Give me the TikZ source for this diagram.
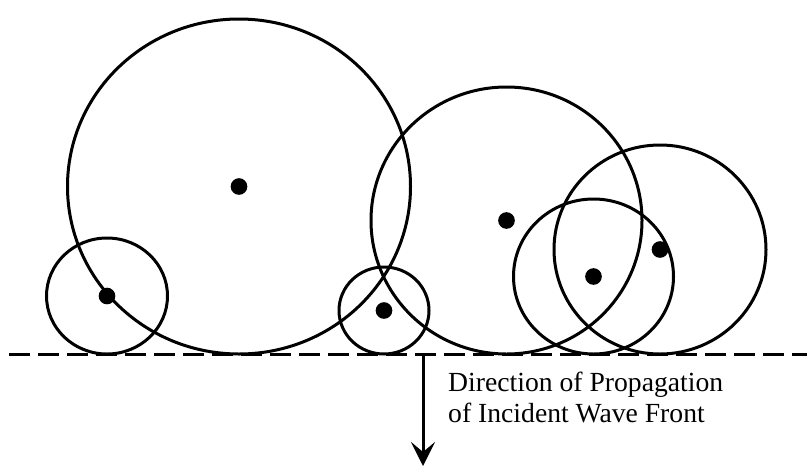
\documentclass[tikz,border=0pt]{standalone}
\usepackage{fontspec}
\setmainfont{Liberation Serif}
\usetikzlibrary{arrows.meta}
\tikzset{
  wave/.style={line width=0.09cm},
  ctr/.style={circle, fill=black, inner sep=0pt, minimum size=0.5cm},
  front/.style={line width=0.09cm, dash pattern=on 0.63cm off 0.24cm},
  prop/.style={-{Stealth[length=0.72cm, width=0.72cm, inset=0.3cm]}, line width=0.09cm},
  lbl/.style={anchor=base west, align=left, inner sep=0pt,
              font=\fontsize{23.6}{26}\selectfont},
}
\begin{document}
\begin{tikzpicture}[x=0.03cm, y=-0.03cm]
  \useasboundingbox (0,0) rectangle (807,466);
  % secondary wavelets: name/x/y/rx/ry
  \foreach \n/\cx/\cy/\rx/\ry in {w1/107/296/60.5/58, w2/239/186.5/171.5/167.5,
      w3/384/310.5/45/43.5, w4/506.5/220.5/135.5/133.5,
      w5/593.5/276.5/80/77.5, w6/660/249.5/106/104.5}{
    \node[ctr] (\n) at (\cx,\cy) {};
    \draw[wave] (\n.center) ellipse [x radius=\rx, y radius=\ry];
  }
  \coordinate (fl) at (9,354);
  \coordinate (fr) at (807,354);
  \draw[front] (fl) -- (fr);
  \coordinate (atop) at (423,355);
  \coordinate (abot) at (423,466);
  \draw[prop] (atop) -- (abot);
  \node[lbl] (txt) at (448,422) {Direction of Propagation\\of Incident Wave Front};
\end{tikzpicture}
\end{document}
